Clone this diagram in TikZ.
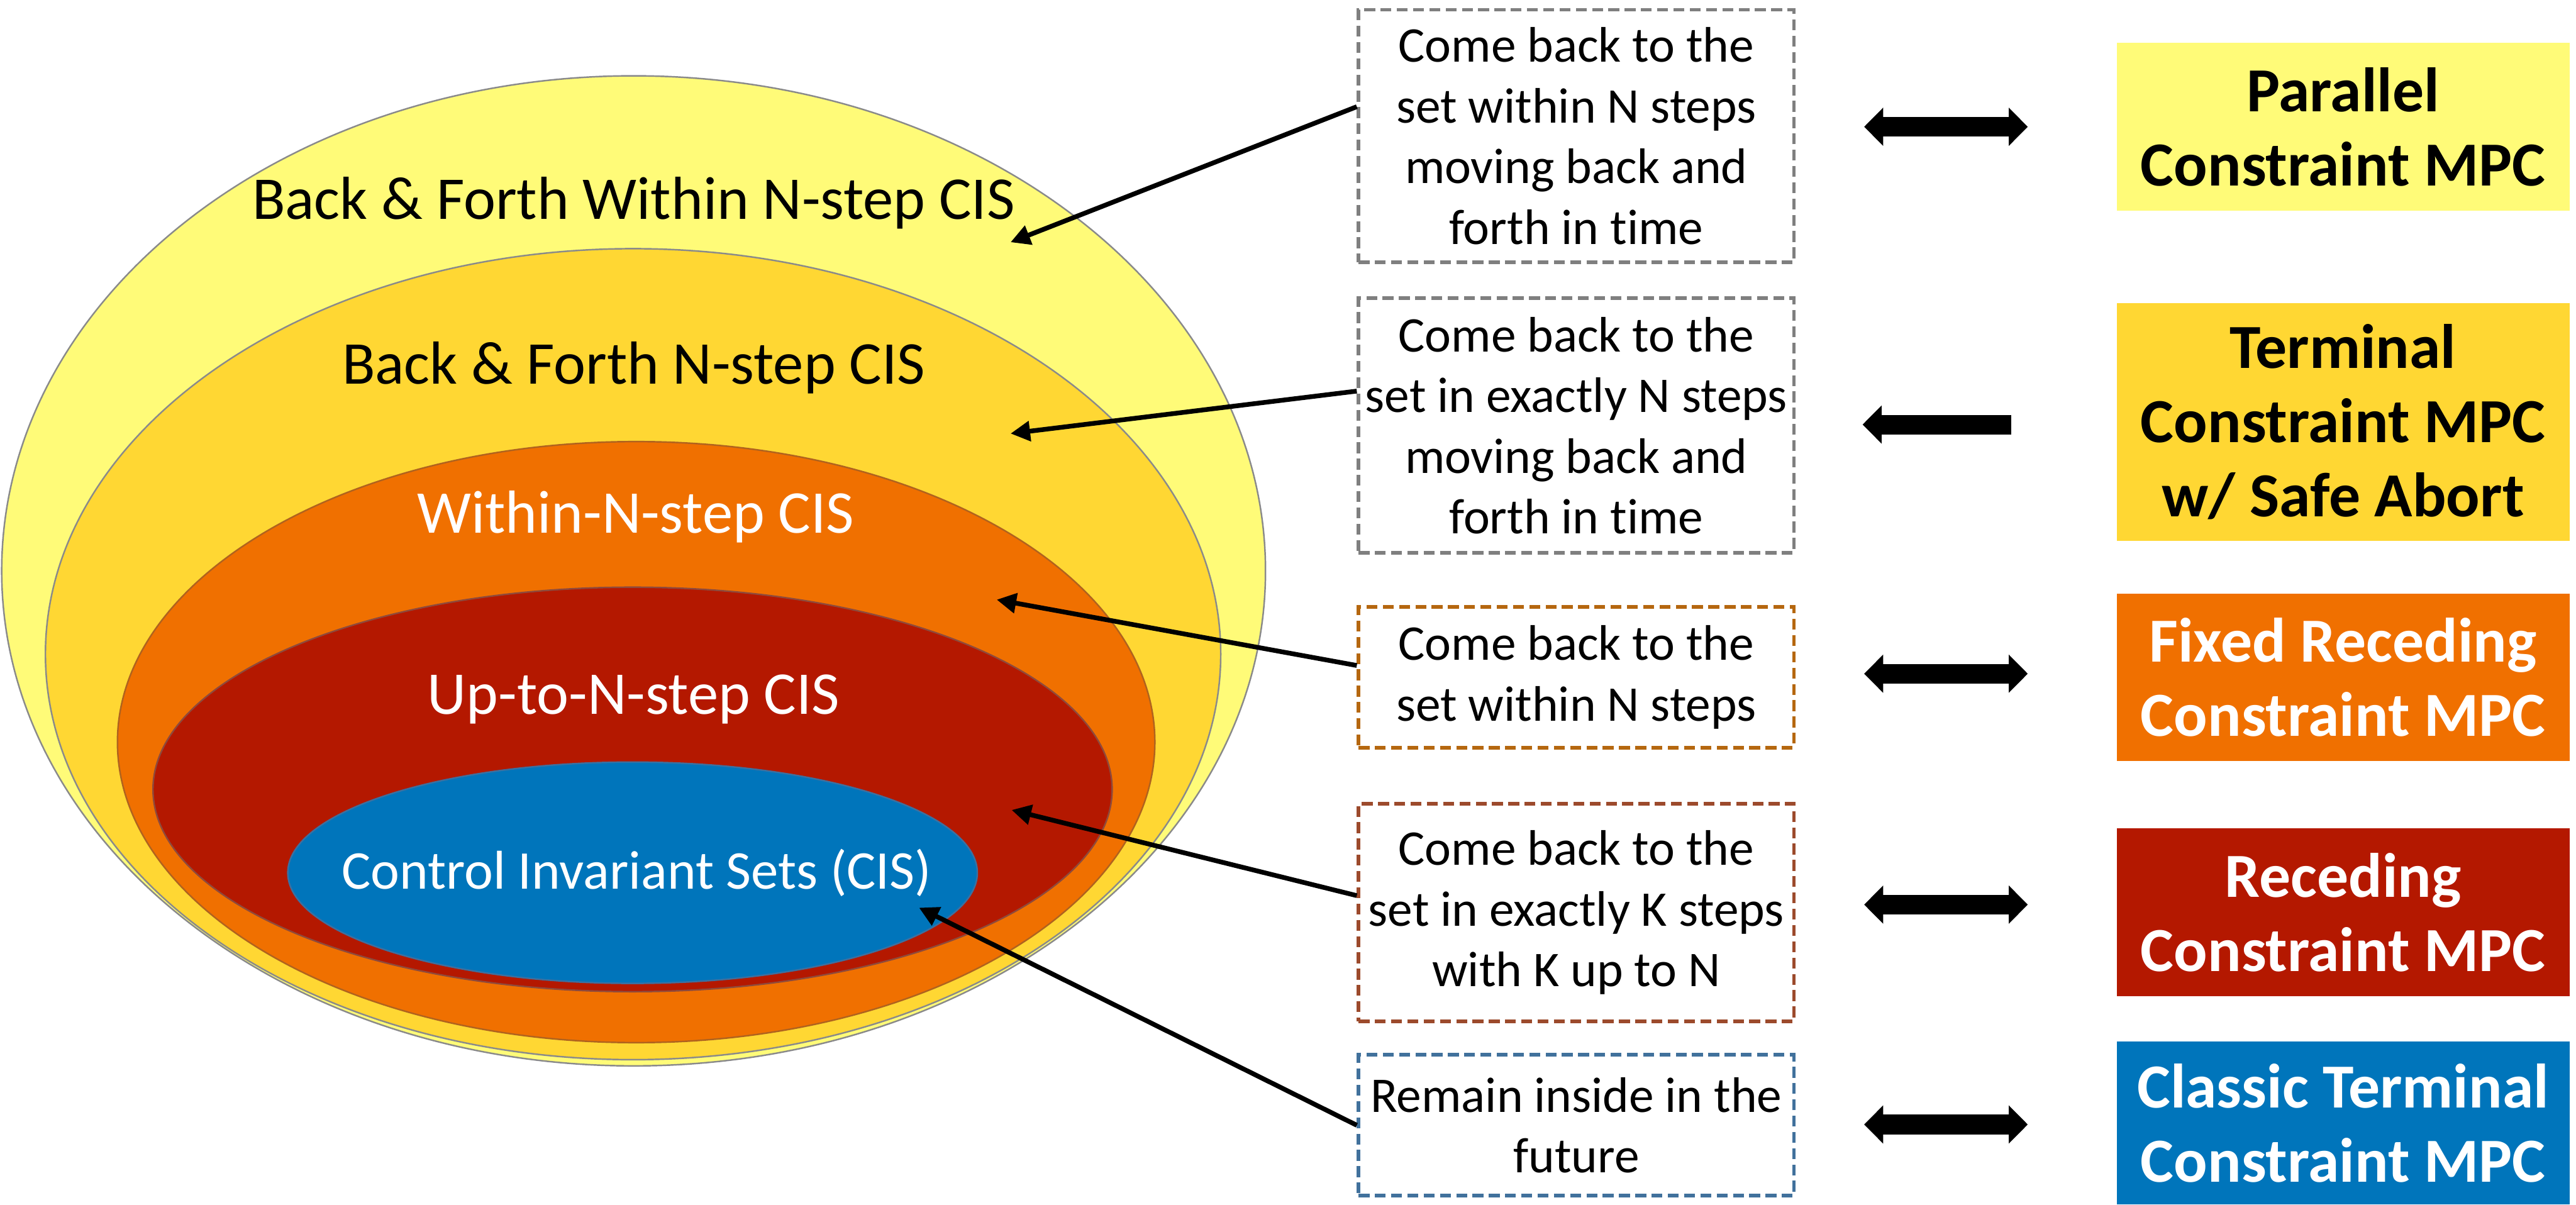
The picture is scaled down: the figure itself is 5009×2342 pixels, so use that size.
\documentclass[tikz,border=0pt]{standalone}
\usepackage{xcolor}
\usepackage{fontspec}
\setmainfont[Ligatures=NoCommon]{Carlito}
\usepackage{tikz}
\usetikzlibrary{arrows.meta}

\definecolor{setyellow}{HTML}{FFFB78}
\definecolor{setgold}{HTML}{FFD733}
\definecolor{setorange}{HTML}{F07000}
\definecolor{setred}{HTML}{B41800}
\definecolor{setblue}{HTML}{0075BB}
\definecolor{rimgray}{HTML}{8A8A8A}
\definecolor{rimorange}{HTML}{B0631E}
\definecolor{rimred}{HTML}{8E4A3C}
\definecolor{rimblue}{HTML}{3C70A0}
\definecolor{dashgray}{HTML}{7F7F7F}
\definecolor{dashorange}{HTML}{B5670F}
\definecolor{dashbrown}{HTML}{9C4A2C}
\definecolor{dashblue}{HTML}{41719C}

\begin{document}
\begin{tikzpicture}[x=0.01cm, y=-0.01cm,
  setlabel/.style={anchor=base, font=\fontsize{33.6}{41}\selectfont},
  desc/.style={draw, dashed, line width=2pt, dash pattern=on 6pt off 3pt, align=center, minimum width=8.46cm, inner sep=0pt, font=\fontsize{27.6}{33.6}\selectfont},
  mpc/.style={align=center, minimum width=8.8cm, inner sep=0pt, font=\bfseries\fontsize{34.7}{41}\selectfont},
  pointer/.style={-{Triangle[length=10.8pt,width=10.8pt]}, line width=2.6pt},
  bigarrow/.style={line width=10.8pt, {Triangle[length=10.5pt,width=20.5pt]}-{Triangle[length=10.5pt,width=20.5pt]}}]
\useasboundingbox (0,0) rectangle (5009,2342);

% nested sets
\filldraw[fill=setyellow, draw=rimgray, line width=0.85pt] (1232,1110) ellipse [x radius=12.28cm, y radius=9.62cm];
\filldraw[fill=setgold, draw=rimgray, line width=0.85pt] (1231,1272) ellipse [x radius=11.42cm, y radius=7.88cm];
\filldraw[fill=setorange, draw=rimorange, line width=0.85pt] (1237,1443) ellipse [x radius=10.08cm, y radius=5.84cm];
\filldraw[fill=setred, draw=rimred, line width=0.85pt] (1230,1535) ellipse [x radius=9.32cm, y radius=3.93cm];
\filldraw[fill=setblue, draw=rimblue, line width=0.85pt] (1230,1697) ellipse [x radius=6.70cm, y radius=2.15cm];

\node[setlabel] (lBFW) at (1232,426) {Back \& Forth Within N-step CIS};
\node[setlabel] (lBF) at (1232,747) {Back \& Forth N-step CIS};
\node[setlabel, text=white] (lWN) at (1236,1036) {Within-N-step CIS};
\node[setlabel, text=white] (lUN) at (1232,1389) {Up-to-N-step CIS};
\node[setlabel, text=white, font=\fontsize{30.2}{37}\selectfont] (lCIS) at (1238,1729) {Control Invariant Sets (CIS)};

% descriptions
\node[desc, draw=dashgray, minimum height=4.91cm] (dBFW) at (3065,264.5) {Come back to the\\set within N steps\\moving back and\\forth in time};
\node[desc, draw=dashgray, minimum height=4.95cm] (dBF) at (3065,827.5) {Come back to the\\set in exactly N steps\\moving back and\\forth in time};
\node[desc, draw=dashorange, minimum height=2.74cm] (dWN) at (3065,1317) {Come back to the\\set within N steps};
\node[desc, draw=dashbrown, minimum height=4.23cm] (dUN) at (3065,1774.5) {Come back to the\\set in exactly K steps\\with K up to N};
\node[desc, draw=dashblue, minimum height=2.74cm] (dCIS) at (3065,2188) {Remain inside in the\\future};

% MPC schemes
\node[mpc, fill=setyellow, minimum height=3.27cm] (mPar) at (4556,246.5) {Parallel\\Constraint MPC};
\node[mpc, fill=setgold, minimum height=4.63cm] (mTer) at (4556,820.5) {Terminal\\Constraint MPC\\w/ Safe Abort};
\node[mpc, fill=setorange, text=white, minimum height=3.26cm] (mFix) at (4556,1317) {Fixed Receding\\Constraint MPC};
\node[mpc, fill=setred, text=white, minimum height=3.26cm] (mRec) at (4556,1774) {Receding\\Constraint MPC};
\node[mpc, fill=setblue, text=white, minimum height=3.17cm] (mCla) at (4556,2183.5) {Classic Terminal\\Constraint MPC};

% pointers into the sets
\coordinate (tBFW) at (1965,471);
\coordinate (tBF) at (1965,843);
\coordinate (tWN) at (1938,1166);
\coordinate (tUN) at (1967,1575);
\coordinate (tCIS) at (1787,1765);
\draw[pointer] ([yshift=0.57cm]dBFW.west) -- (tBFW);
\draw[pointer] ([yshift=0.67cm]dBF.west) -- (tBF);
\draw[pointer] ([yshift=0.23cm]dWN.west) -- (tWN);
\draw[pointer] ([yshift=0.33cm]dUN.west) -- (tUN);
\draw[pointer] (dCIS.west) -- (tCIS);

% equivalences
\draw[bigarrow] ([xshift=-4.90cm]mPar.west) -- ([xshift=-1.72cm]mPar.west);
\draw[line width=10.8pt, {Triangle[length=10.5pt,width=20.5pt]}-] ([xshift=-4.93cm,yshift=-0.05cm]mTer.west) -- ([xshift=-2.04cm,yshift=-0.05cm]mTer.west);
\draw[bigarrow] ([xshift=-4.90cm,yshift=0.07cm]mFix.west) -- ([xshift=-1.72cm,yshift=0.07cm]mFix.west);
\draw[bigarrow] ([xshift=-4.90cm,yshift=0.15cm]mRec.west) -- ([xshift=-1.72cm,yshift=0.15cm]mRec.west);
\draw[bigarrow] ([xshift=-4.90cm,yshift=-0.03cm]mCla.west) -- ([xshift=-1.72cm,yshift=-0.03cm]mCla.west);
\end{tikzpicture}
\end{document}
